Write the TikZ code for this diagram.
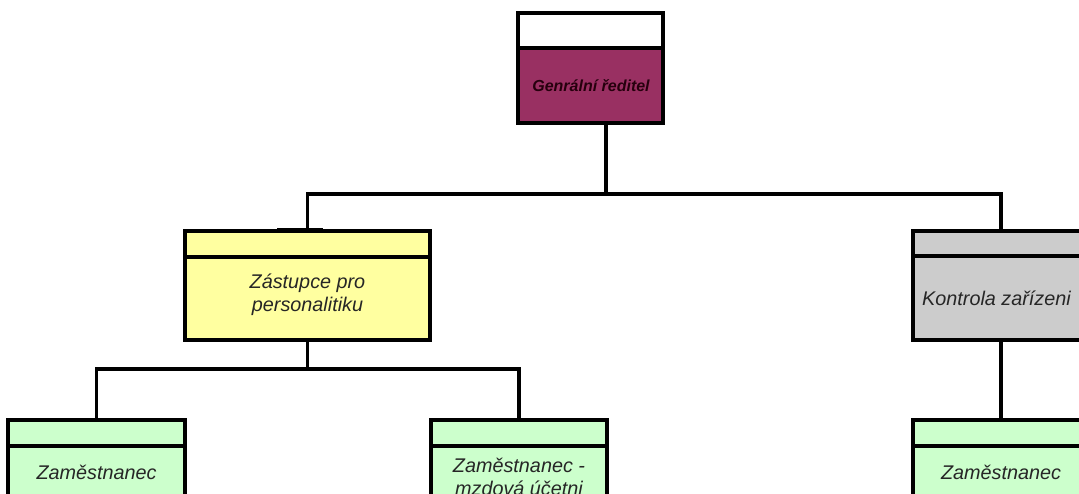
\documentclass[tikz,border=0pt]{standalone}
\usepackage{fontspec}
\setmainfont{Liberation Sans}
\begin{document}
\begin{tikzpicture}[x=1pt,y=-1pt,
  unitbox/.style={draw=black, line width=3.1pt, rectangle, inner sep=0pt, outer sep=0pt},
  link/.style={draw=black, line width=3.1pt},
  divider/.style={draw=black, line width=3.1pt},
  lbl/.style={font=\fontsize{19.8}{23}\selectfont\itshape, text=black!85, align=center, inner sep=0pt},
  toplbl/.style={font=\fontsize{16}{18}\selectfont\bfseries\itshape, text=black!80!purple, inner sep=0pt}
]
\definecolor{bossfill}{RGB}{153,48,98}
\definecolor{deputyfill}{RGB}{255,255,160}
\definecolor{checkfill}{RGB}{204,204,204}
\definecolor{staffill}{RGB}{204,255,204}

\useasboundingbox (0,0) rectangle (1079,493);
\clip (0,0) rectangle (1079,493);

% director
\fill[white] (518,13) rectangle (663,48);
\fill[bossfill] (518,48) rectangle (663,123);
\node[unitbox, minimum width=145pt, minimum height=110pt] (boss) at (590.5,68) {};
\draw[divider] (518,48) -- (663,48);
\node[toplbl] (bosst) at (591,86) {Genrální ředitel};

% deputy for personnel
\node[unitbox, fill=deputyfill, minimum width=245pt, minimum height=109pt] (dep) at (307.5,285.5) {};
\draw[divider] (dep.west |- 0,257) -- (dep.east |- 0,257);
\node[lbl] (dept) at (307.5,295) {Zástupce pro\\personalitiku};
\draw[line width=4.2pt] (277,230.5) -- (323,230.5);

% equipment check
\node[unitbox, fill=checkfill, minimum width=176pt, minimum height=109pt] (chk) at (1001,285.5) {};
\draw[divider] (chk.west |- 0,256) -- (chk.east |- 0,256);
\node[lbl, anchor=west] (chkt) at (922,298) {Kontrola zařízeni};

% staff
\node[unitbox, fill=staffill, minimum width=177pt, minimum height=120pt] (st1) at (96.5,480) {};
\node[unitbox, fill=staffill, minimum width=176pt, minimum height=120pt] (st2) at (519,480) {};
\node[unitbox, fill=staffill, minimum width=176pt, minimum height=120pt] (st3) at (1001,480) {};
\foreach \b in {st1,st2,st3}
  \draw[divider] (\b.west |- 0,446) -- (\b.east |- 0,446);
\node[lbl] (st1t) at (96.5,472) {Zaměstnanec};
\node[lbl] (st2t) at (519,477) {Zaměstnanec -\\mzdová účetni};
\node[lbl] (st3t) at (1001,472) {Zaměstnanec};

% connectors
\coordinate (bossout) at (606,123);
\coordinate (bus1) at (606,194);
\coordinate (bus2) at (307.5,369);
\draw[link] (bossout) -- (bus1);
\draw[link] (dep.north) |- (bus1) -| (chk.north);
\draw[link] (dep.south) -- (bus2);
\draw[link] (st1.north) |- (bus2) -| (st2.north);
\draw[link] (chk.south) -- (st3.north);
\end{tikzpicture}
\end{document}
